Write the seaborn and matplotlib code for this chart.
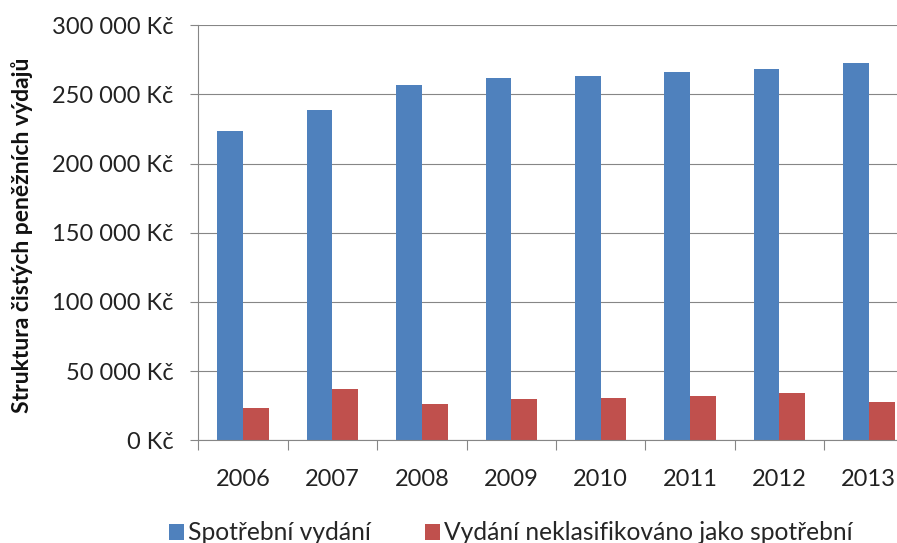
import matplotlib
matplotlib.use('Agg')
import matplotlib.pyplot as plt
import seaborn as sns
import pandas as pd
import numpy as np
from matplotlib.ticker import FuncFormatter
from matplotlib.patches import Patch

years = ['2006', '2007', '2008', '2009', '2010', '2011', '2012', '2013']
spotrebni = [223500, 238700, 256700, 262000, 263200, 265900, 268500, 272400]
neklasif = [23100, 37100, 26200, 29800, 30800, 31800, 34400, 27900]
series_names = ['Spotřební vydání', 'Vydání neklasifikováno jako spotřební']
colors = ['#4F81BD', '#C0504D']
y_ticks = [0, 50000, 100000, 150000, 200000, 250000, 300000]
y_label = 'Struktura čistých peněžních výdajů'

sns.set_theme(style='white')
plt.rcParams['font.family'] = ['Lato', 'DejaVu Sans']

df = pd.DataFrame({
    'Rok': years * 2,
    'Hodnota': spotrebni + neklasif,
    'Série': [series_names[0]] * len(years) + [series_names[1]] * len(years),
})

fig = plt.figure(figsize=(8.97, 5.43), dpi=100)
ax = fig.add_axes([0.2211, 0.1891, 0.7973, 0.7646])
sns.barplot(data=df, x='Rok', y='Hodnota', hue='Série', palette=colors,
            width=0.575, gap=0, saturation=1, linewidth=0, ax=ax, legend=False)

ax.set_xlim(-0.5, len(years) - 0.5)
ax.set_ylim(0, 300000)
ax.set_yticks(y_ticks)
ax.yaxis.set_major_formatter(FuncFormatter(lambda v, p: f"{int(v):,}".replace(',', ' ') + ' Kč'))
ax.grid(axis='y', color='#868686', linewidth=0.8)
ax.set_axisbelow(True)

# category boundaries as major ticks, labels on minor ticks at centers
ax.set_xticks(np.arange(-0.5, len(years) + 0.5, 1))
ax.set_xticklabels([''] * (len(years) + 1))
ax.set_xticks(np.arange(len(years)), minor=True)
ax.set_xticklabels(years, minor=True)
ax.tick_params(axis='x', which='major', length=7, width=0.8, color='#868686', direction='out', bottom=True)
ax.tick_params(axis='x', which='minor', length=0, pad=21, labelsize=17, labelcolor='#222222', bottom=True)
ax.tick_params(axis='y', which='major', length=6, width=0.8, color='#868686', direction='out', left=True,
               pad=12, labelsize=17, labelcolor='#222222')

for s in ['top', 'right']:
    ax.spines[s].set_visible(False)
for s in ['left', 'bottom']:
    ax.spines[s].set_color('#868686')
    ax.spines[s].set_linewidth(0.8)

ax.set_xlabel('')
ax.set_ylabel(y_label, fontsize=16.5, fontweight='bold', color='#111111')
ax.yaxis.set_label_coords(-0.231, 0.494)

handles = [Patch(facecolor=c, edgecolor='none') for c in colors]
fig.legend(handles, series_names, loc='center left', bbox_to_anchor=(169 / 897, 10 / 543),
           ncol=2, frameon=False, fontsize=17.7, borderaxespad=0, borderpad=0,
           handlelength=0.62, handleheight=0.62, handletextpad=0.15, columnspacing=2.2)

fig.savefig('out.png', dpi=100)
